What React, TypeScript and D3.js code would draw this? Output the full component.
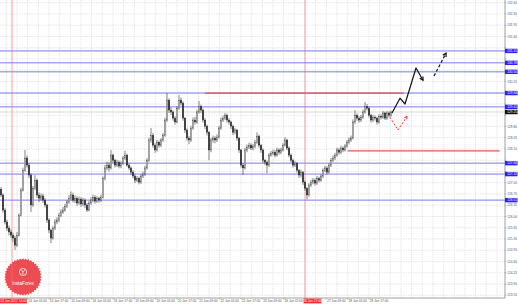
import React from 'react';
import * as d3 from 'd3';

const W = 518;
const H = 305;

// price axis tick labels
const priceTicks = [132.65, 132.30, 131.95, 131.60, 131.25, 130.90, 130.55, 130.20, 129.85, 129.50, 129.15, 128.80, 128.45, 128.10, 127.75, 127.40, 127.05, 126.70, 126.35, 126.00, 125.65, 125.30, 124.95, 124.60, 124.25, 123.90, 123.55];

// time axis labels (trading-hour offset from chart start)
const timeHours = [20, 36, 52, 68, 84, 100, 116, 132, 148, 164, 180, 196, 212, 228, 244, 260, 276];
const timeTexts = ['14 Jun 01:00', '14 Jun 17:00', '15 Jun 09:00', '16 Jun 01:00', '16 Jun 17:00', '19 Jun 09:00', '20 Jun 01:00', '20 Jun 17:00', '21 Jun 09:00', '22 Jun 01:00', '22 Jun 17:00', '23 Jun 09:00', '26 Jun 01:00', '26 Jun 17:00', '27 Jun 09:00', '28 Jun 01:00', '28 Jun 17:00'];

// red vertical separators
const markerHours = [8.25, 228];
const markerTexts = ['13 Jun 2017 13:00', '26 Jun 17:00'];

// horizontal levels
const blueLevels = [131.15, 130.78, 130.50, 129.84, 129.41, 127.66, 127.32, 126.51];
const currentPrice = 129.25;
const redLevelPrices = [129.84, 128.04];
const redLevelFrom = [153, 260];
const redLevelTo = [302, 374];

// candles (one every 1.5 trading hours)
const opens = [126.85,126.67,126.20,125.83,125.64,125.52,125.42,125.33,125.11,125.42,
126.04,126.82,127.44,127.82,127.60,127.29,126.36,126.88,127.13,126.67,
126.57,126.64,126.51,126.36,125.89,125.58,125.33,125.64,125.83,125.89,
126.04,126.14,126.20,126.32,126.45,126.57,126.67,126.51,126.57,126.42,
126.54,126.39,126.51,126.36,126.20,126.42,126.51,126.60,126.48,126.57,
126.51,126.60,127.19,127.51,127.60,127.51,127.91,127.75,127.60,127.69,
127.57,127.66,127.82,127.91,127.60,127.51,127.38,127.26,127.13,127.19,
127.07,127.26,127.32,127.51,127.75,128.38,128.53,128.22,128.07,128.31,
128.22,128.38,128.53,129.00,129.62,129.31,129.25,129.06,128.94,129.37,
129.62,129.53,129.06,128.69,128.44,128.38,128.75,129.00,128.94,129.25,
129.43,129.31,129.00,128.81,128.62,128.07,128.38,128.44,128.38,128.47,
128.75,129.00,129.06,129.15,129.00,128.94,128.81,128.62,128.69,128.44,
128.07,127.60,127.51,128.07,128.16,128.22,128.13,128.19,128.31,128.50,
128.22,128.07,127.75,127.69,127.60,127.91,127.97,128.00,127.91,128.07,
128.00,128.07,128.22,128.38,128.13,127.91,127.75,127.60,127.66,127.44,
127.29,127.38,127.07,126.88,126.67,126.98,127.07,127.13,127.04,127.19,
127.13,127.26,127.44,127.51,127.38,127.60,127.75,127.82,127.91,128.07,
128.00,128.13,128.07,128.19,128.31,128.38,128.44,128.94,129.15,129.06,
129.00,129.09,129.25,129.43,129.37,129.15,129.00,129.09,129.06,128.94,
129.12,129.09,129.22,129.06,129.22,129.15];

const closes = [126.67,126.20,125.83,125.64,125.52,125.42,125.33,125.11,125.42,126.04,
126.82,127.44,127.82,127.60,127.29,126.36,126.88,127.13,126.67,126.57,
126.64,126.51,126.36,125.89,125.58,125.33,125.64,125.83,125.89,126.04,
126.14,126.20,126.32,126.45,126.57,126.67,126.51,126.57,126.42,126.54,
126.39,126.51,126.36,126.20,126.42,126.51,126.60,126.48,126.57,126.51,
126.60,127.19,127.51,127.60,127.51,127.91,127.75,127.60,127.69,127.57,
127.66,127.82,127.91,127.60,127.51,127.38,127.26,127.13,127.19,127.07,
127.26,127.32,127.51,127.75,128.38,128.53,128.22,128.07,128.31,128.22,
128.38,128.53,129.00,129.62,129.31,129.25,129.06,128.94,129.37,129.62,
129.53,129.06,128.69,128.44,128.38,128.75,129.00,128.94,129.25,129.43,
129.31,129.00,128.81,128.62,128.07,128.38,128.44,128.38,128.47,128.75,
129.00,129.06,129.15,129.00,128.94,128.81,128.62,128.69,128.44,128.07,
127.60,127.51,128.07,128.16,128.22,128.13,128.19,128.31,128.50,128.22,
128.07,127.75,127.69,127.60,127.91,127.97,128.00,127.91,128.07,128.00,
128.07,128.22,128.38,128.13,127.91,127.75,127.60,127.66,127.44,127.29,
127.38,127.07,126.88,126.67,126.98,127.07,127.13,127.04,127.19,127.13,
127.26,127.44,127.51,127.38,127.60,127.75,127.82,127.91,128.07,128.00,
128.13,128.07,128.19,128.31,128.38,128.44,128.94,129.15,129.06,129.00,
129.09,129.25,129.43,129.37,129.15,129.00,129.09,129.06,128.94,129.12,
129.09,129.22,129.06,129.22,129.15,129.25];

const highs = [126.92,126.72,126.26,125.90,125.72,125.60,125.50,125.40,125.52,126.10,
126.90,127.52,128.07,127.90,127.66,127.35,126.95,127.29,127.18,126.75,
126.72,126.70,126.58,126.40,125.95,125.62,125.70,125.92,125.98,126.12,
126.22,126.30,126.40,126.52,126.66,126.78,126.74,126.66,126.63,126.62,
126.60,126.58,126.56,126.42,126.48,126.60,126.68,126.66,126.64,126.62,
126.68,127.25,127.60,127.70,127.68,128.07,127.96,127.80,127.76,127.74,
127.72,127.88,128.04,127.96,127.66,127.56,127.44,127.32,127.26,127.24,
127.32,127.40,127.58,127.82,128.45,128.75,128.60,128.28,128.38,128.36,
128.44,128.60,129.08,129.84,129.68,129.40,129.30,129.12,129.44,129.78,
129.70,129.58,129.10,128.74,128.50,128.82,129.08,129.10,129.32,129.59,
129.48,129.36,129.06,128.86,128.66,128.45,128.52,128.50,128.55,128.82,
129.08,129.14,129.22,129.20,129.06,128.98,128.86,128.76,128.72,128.48,
128.10,127.66,128.14,128.24,128.30,128.28,128.26,128.38,128.62,128.55,
128.26,128.12,127.80,127.74,127.98,128.04,128.08,128.06,128.14,128.12,
128.14,128.28,128.47,128.42,128.18,127.96,127.80,127.72,127.70,127.48,
127.46,127.42,127.12,126.92,127.04,127.14,127.20,127.18,127.26,127.24,
127.32,127.50,127.58,127.56,127.66,127.82,127.90,127.98,128.14,128.12,
128.20,128.18,128.26,128.38,128.46,128.52,129.02,129.31,129.20,129.12,
129.16,129.32,129.56,129.50,129.42,129.20,129.16,129.14,129.10,129.18,
129.18,129.28,129.26,129.28,129.27,129.30];

const lows = [126.60,126.12,125.75,125.55,125.42,125.33,125.20,124.96,125.05,125.38,
126.00,126.78,127.40,127.52,127.20,126.14,126.30,126.82,126.58,126.45,
126.50,126.42,126.28,125.80,125.48,125.17,125.28,125.58,125.76,125.82,
125.98,126.08,126.15,126.26,126.40,126.50,126.44,126.42,126.33,126.36,
126.30,126.32,126.26,126.14,126.16,126.36,126.44,126.40,126.42,126.43,
126.45,126.56,127.12,127.44,127.40,127.46,127.66,127.52,127.54,127.50,
127.50,127.60,127.76,127.54,127.44,127.30,127.18,127.04,127.07,127.00,
127.02,127.20,127.26,127.46,127.70,128.30,128.14,127.98,128.02,128.14,
128.16,128.32,128.48,128.94,129.22,129.16,128.98,128.86,128.90,129.32,
129.45,128.98,128.60,128.36,128.25,128.32,128.70,128.86,128.88,129.20,
129.22,128.92,128.72,128.52,127.75,128.00,128.30,128.28,128.32,128.42,
128.70,128.94,129.00,128.92,128.86,128.72,128.54,128.56,128.36,127.98,
127.52,127.29,127.46,128.00,128.10,128.06,128.06,128.12,128.26,128.14,
127.98,127.66,127.60,127.35,127.54,127.86,127.90,127.84,127.86,127.92,
127.94,128.02,128.18,128.06,127.84,127.68,127.52,127.54,127.36,127.20,
127.22,126.98,126.80,126.54,126.62,126.92,127.00,126.96,126.98,127.06,
127.08,127.20,127.38,127.30,127.34,127.54,127.70,127.76,127.86,127.92,
127.94,128.00,128.02,128.14,128.24,128.32,128.40,128.88,128.98,128.92,
128.94,129.04,129.20,129.30,129.08,128.92,128.94,128.98,128.86,128.88,
129.02,129.04,129.00,129.00,129.08,129.10];

const barStepHours = 1.5;

// forecast arrows: [hour, price]
const blackPathHours = [293.25, 299.25, 303, 311.25, 316.5];
const blackPathPrices = [129.22, 129.68, 129.50, 130.62, 130.24];
const blackDashHours = [324.75, 333.75];
const blackDashPrices = [130.37, 131.08];
const redPathHours = [291.75, 297.75, 304.5];
const redPathPrices = [129.09, 128.69, 129.12];

const PLOT_R = 505;
const PLOT_B = 298;
const FONT = '"Liberation Sans", Arial, sans-serif';

export default function App() {
  const x = d3.scaleLinear().domain([0, 378]).range([1, PLOT_R]);
  const y = d3.scaleLinear().domain([123.55, 132.65]).range([295.3, 2.7]);

  const bars = closes.map((c, i) => ({ o: opens[i], h: highs[i], l: lows[i], c, t: i * barStepHours }));
  const gridX = d3.range(4, 378, 8);

  const line = d3.line<[number, number]>().x(d => x(d[0])).y(d => y(d[1]));

  const arrowHead = (hs: number[], ps: number[], size: number) => {
    const n = hs.length;
    const x1 = x(hs[n - 2]), y1 = y(ps[n - 2]);
    const x2 = x(hs[n - 1]), y2 = y(ps[n - 1]);
    const a = Math.atan2(y2 - y1, x2 - x1);
    const spread = 0.5;
    const p1 = [x2 - size * Math.cos(a - spread), y2 - size * Math.sin(a - spread)];
    const p2 = [x2 - size * Math.cos(a + spread), y2 - size * Math.sin(a + spread)];
    return `M${p1[0]},${p1[1]}L${x2},${y2}L${p2[0]},${p2[1]}`;
  };

  // InstaForex badge outline (sawtooth circle)
  const badgeCx = 23, badgeCy = 277, badgeR = 17.5;
  const teeth = 40;
  const badgePts: [number, number][] = d3.range(teeth * 2).map(k => {
    const ang = (k / (teeth * 2)) * Math.PI * 2;
    const r = k % 2 === 0 ? badgeR + 1.3 : badgeR - 0.3;
    return [ang, r];
  });
  const badgePath = d3.lineRadial<[number, number]>().angle(d => d[0]).radius(d => d[1]).curve(d3.curveLinearClosed)(badgePts) || '';

  const zip = (a: number[], b: number[]) => a.map((v, i) => [v, b[i]] as [number, number]);

  // price-axis labels covered by level boxes are not drawn (as on the reference)
  const boxPrices = [...blueLevels, currentPrice];
  const visibleTicks = priceTicks.filter(p => boxPrices.every(b => Math.abs(y(p) - y(b)) > 4.6));
  // time labels hidden under a red marker box
  const markerBoxes = markerHours.map((h, i) => {
    const w = i === 0 ? 27 : 18;
    const left = i === 0 ? Math.max(0, x(h) - w / 2) : x(h) - 1.5;
    return { left, w };
  });
  const visibleTimes = timeHours
    .map((h, i) => ({ h, t: timeTexts[i] }))
    .filter(d => markerBoxes.every(m => x(d.h) + 16 < m.left || x(d.h) > m.left + m.w - 0.5));

  return (
    <svg width={W} height={H} style={{ position: 'absolute', left: 0, top: 0, background: '#fff' }} fontFamily={FONT}>
      <rect x={0} y={0} width={W} height={H} fill="#fff" />
      <defs>
        <clipPath id="plot"><rect x={0} y={0} width={PLOT_R} height={PLOT_B} /></clipPath>
      </defs>
      <g clipPath="url(#plot)">
        {/* grid */}
        {gridX.map((h, i) => (
          <line key={'gx' + i} x1={x(h)} x2={x(h)} y1={0} y2={PLOT_B} stroke="#cfcfcf" strokeWidth={0.6} strokeDasharray="1.2,1.2" />
        ))}
        {priceTicks.map((p, i) => (
          <line key={'gy' + i} x1={0} x2={PLOT_R} y1={y(p)} y2={y(p)} stroke="#cfcfcf" strokeWidth={0.6} strokeDasharray="1.2,1.2" />
        ))}
        {/* badge */}
        <g>
          <path d={badgePath} transform={`translate(${badgeCx},${badgeCy})`} fill="#e8343b" opacity={0.88} />
          <circle cx={badgeCx} cy={badgeCy - 5} r={3.6} fill="none" stroke="#fff" strokeWidth={0.8} />
          <path d={`M${badgeCx - 1.8},${badgeCy - 7} L${badgeCx},${badgeCy - 5} L${badgeCx + 1.8},${badgeCy - 7} M${badgeCx},${badgeCy - 5} L${badgeCx},${badgeCy - 2.2}`} stroke="#fff" strokeWidth={0.7} fill="none" />
          <text x={badgeCx} y={badgeCy + 7.5} fontSize={4.6} fill="#fff" textAnchor="middle">InstaForex</text>
        </g>
        {/* vertical red markers */}
        {markerHours.map((h, i) => (
          <line key={'vm' + i} x1={x(h)} x2={x(h)} y1={0} y2={PLOT_B} stroke="#ff6b6b" strokeWidth={0.8} opacity={0.8} />
        ))}
        {/* blue levels */}
        {blueLevels.map((p, i) => (
          <line key={'bl' + i} x1={0} x2={PLOT_R} y1={y(p)} y2={y(p)} stroke="#7a7aff" strokeWidth={1} />
        ))}
        {/* bid line */}
        <line x1={0} x2={PLOT_R} y1={y(currentPrice)} y2={y(currentPrice)} stroke="#bdbdbd" strokeWidth={0.6} />
        {/* red levels */}
        {redLevelPrices.map((p, i) => (
          <line key={'rl' + i} x1={x(redLevelFrom[i])} x2={x(redLevelTo[i])} y1={y(p)} y2={y(p)} stroke="#f05050" strokeWidth={1.3} />
        ))}
        {/* candles */}
        {bars.map((b, i) => {
          const cx = x(b.t);
          const top = y(Math.max(b.o, b.c));
          const bot = y(Math.min(b.o, b.c));
          const up = b.c >= b.o;
          return (
            <g key={'c' + i}>
              <line x1={cx} x2={cx} y1={y(b.h)} y2={y(b.l)} stroke="#333" strokeWidth={0.6} />
              <rect x={cx - 0.7} y={top} width={1.4} height={Math.max(0.6, bot - top)} fill={up ? '#fff' : '#222'} stroke="#333" strokeWidth={0.4} />
            </g>
          );
        })}
        {/* forecast arrows */}
        <path d={line(zip(redPathHours, redPathPrices)) || ''} fill="none" stroke="#ff3b3b" strokeWidth={1} strokeDasharray="2.2,1.5" />
        <path d={arrowHead(redPathHours, redPathPrices, 3.2)} fill="none" stroke="#ff3b3b" strokeWidth={1} />
        <path d={line(zip(blackPathHours, blackPathPrices)) || ''} fill="none" stroke="#111" strokeWidth={1.2} strokeLinejoin="round" />
        <path d={arrowHead(blackPathHours, blackPathPrices, 3.8)} fill="none" stroke="#111" strokeWidth={1.2} />
        <path d={line(zip(blackDashHours, blackDashPrices)) || ''} fill="none" stroke="#111" strokeWidth={1.2} strokeDasharray="3,2" />
        <path d={arrowHead(blackDashHours, blackDashPrices, 3.8)} fill="none" stroke="#111" strokeWidth={1.2} />
      </g>
      {/* axes */}
      <line x1={PLOT_R} x2={PLOT_R} y1={0} y2={PLOT_B} stroke="#888" strokeWidth={0.8} />
      <line x1={0} x2={PLOT_R} y1={PLOT_B} y2={PLOT_B} stroke="#888" strokeWidth={0.8} />
      {priceTicks.map((p, i) => (
        <line key={'ptk' + i} x1={PLOT_R} x2={PLOT_R + 1.5} y1={y(p)} y2={y(p)} stroke="#888" strokeWidth={0.5} />
      ))}
      {visibleTicks.map((p, i) => (
        <text key={'pt' + i} x={PLOT_R + 2.2} y={y(p)} dy="0.35em" fontSize={3.2} fill="#555">{p.toFixed(2)}</text>
      ))}
      {blueLevels.map((p, i) => (
        <g key={'bb' + i}>
          <rect x={PLOT_R} y={y(p) - 2.2} width={12.5} height={4.4} fill="#2424ff" />
          <text x={PLOT_R + 2.2} y={y(p)} dy="0.35em" fontSize={3.2} fill="#fff">{p.toFixed(2)}</text>
        </g>
      ))}
      <rect x={PLOT_R} y={y(currentPrice) - 2.2} width={12.5} height={4.4} fill="#111" />
      <text x={PLOT_R + 2.2} y={y(currentPrice)} dy="0.35em" fontSize={3.2} fill="#fff">{currentPrice.toFixed(2)}</text>
      {timeHours.map((h, i) => (
        <line key={'tk' + i} x1={x(h)} x2={x(h)} y1={PLOT_B} y2={PLOT_B + 1.5} stroke="#888" strokeWidth={0.5} />
      ))}
      {visibleTimes.map((d, i) => (
        <text key={'tl' + i} x={x(d.h) + 0.8} y={PLOT_B + 4.3} fontSize={3.2} fill="#555">{d.t}</text>
      ))}
      {markerBoxes.map((m, i) => (
        <g key={'mk' + i}>
          <rect x={m.left} y={PLOT_B + 0.6} width={m.w} height={4.8} fill="#ff2a2a" />
          <text x={m.left + m.w / 2} y={PLOT_B + 4.3} fontSize={3.2} fill="#fff" textAnchor="middle">{markerTexts[i]}</text>
        </g>
      ))}
    </svg>
  );
}
